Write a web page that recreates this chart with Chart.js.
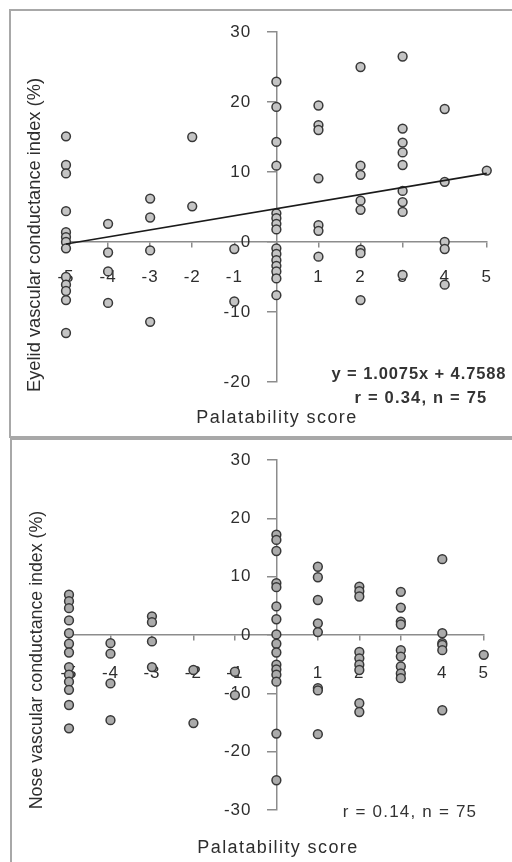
<!DOCTYPE html>
<html><head><meta charset="utf-8">
<script src="https://cdn.jsdelivr.net/npm/chart.js@4.4.0/dist/chart.umd.min.js"></script>
<style>
html,body{margin:0;padding:0;background:#fff;width:512px;height:862px;overflow:hidden;}
.panel{position:absolute;box-sizing:border-box;border:2px solid #a8a8a8;border-right:none;}
#p1{left:9px;top:9px;width:503px;height:429px;}
#p2{left:10px;top:438px;width:502px;height:430px;border-bottom:none;}
.cv{position:absolute;left:0;}
#c1{top:0;}
#c2{top:437px;}
</style></head><body>
<div class="panel" id="p1"></div>
<div class="panel" id="p2"></div>
<canvas class="cv" id="c1" width="512" height="437"></canvas>
<canvas class="cv" id="c2" width="512" height="425"></canvas>
<script>
// ---------- data ----------
const xTicks = [-5,-4,-3,-2,-1,0,1,2,3,4,5];
const xTickLabels = ['-5','-4','-3','-2','-1','0','1','2','3','4','5'];
const eyelidYTicks = [-20,-10,0,10,20,30];
const noseYTicks = [-30,-20,-10,0,10,20,30];

// Eyelid vascular conductance index (%) by palatability score
const eyelidScore = [
 -5,-5,-5,-5,-5,-5,-5,-5,-5,-5,-5,-5,-5,
 -4,-4,-4,-4,
 -3,-3,-3,-3,
 -2,-2,
 -1,-1,
 0,0,0,0,0,0,0,0,0,0,0,0,0,0,0,
 1,1,1,1,1,1,1,
 2,2,2,2,2,2,2,2,
 3,3,3,3,3,3,3,3,3,
 4,4,4,4,4,
 5];
const eyelidValue = [
 15.1,11.0,9.8,4.4,1.4,0.7,0.0,-0.9,-5.0,-6.1,-7.0,-8.3,-13.0,
 2.6,-1.5,-4.2,-8.7,
 6.2,3.5,-1.2,-11.4,
 15.0,5.1,
 -1.0,-8.5,
 22.9,19.3,14.3,10.9,4.1,3.4,2.6,1.8,-0.9,-1.7,-2.6,-3.4,-4.2,-5.2,-7.6,
 19.5,16.7,16.0,9.1,2.4,1.6,-2.1,
 25.0,10.9,9.6,5.9,4.6,-1.1,-1.6,-8.3,
 26.5,16.2,14.2,12.8,11.0,7.3,5.7,4.3,-4.7,
 19.0,8.6,0.0,-1.0,-6.1,
 10.2];
const eyelidTrendX = [-5, 5];
const eyelidTrendY = [-0.28, 9.80];

// Nose vascular conductance index (%) by palatability score
const noseScore = [
 -5,-5,-5,-5,-5,-5,-5,-5,-5,-5,-5,-5,-5,
 -4,-4,-4,-4,
 -3,-3,-3,-3,
 -2,-2,
 -1,-1,
 0,0,0,0,0,0,0,0,0,0,0,0,0,0,0,0,
 1,1,1,1,1,1,1,1,
 2,2,2,2,2,2,2,2,2,
 3,3,3,3,3,3,3,3,3,
 4,4,4,4,4,4,
 5];
const noseValue = [
 6.9,5.8,4.6,2.5,0.3,-1.5,-3.0,-5.5,-6.8,-8.0,-9.4,-12.0,-16.0,
 -1.4,-3.2,-8.3,-14.6,
 3.2,2.2,-1.1,-5.5,
 -6.0,-15.1,
 -6.3,-10.3,
 17.2,16.3,14.4,8.9,8.2,4.9,2.7,0.1,-1.5,-3.0,-5.1,-5.9,-6.8,-8.0,-16.9,-24.9,
 11.7,9.9,6.0,2.0,0.5,-9.1,-9.5,-17.0,
 8.3,7.5,6.6,-2.9,-4.0,-5.1,-6.0,-11.7,-13.2,
 7.4,4.7,2.3,1.8,-2.6,-3.7,-5.4,-6.6,-7.4,
 13.0,0.3,-1.4,-1.7,-2.6,-12.9,
 -3.4];

const FONT = "'Liberation Sans', Arial, sans-serif";
const AXIS = '#8c8c8c';
const TEXT = '#2e2e2e';

const spacing = {
  id: 'spacing',
  beforeLayout(chart){ chart.ctx.letterSpacing = '1px'; },
  beforeDraw(chart){ chart.ctx.letterSpacing = '1px'; }
};

const textPlugin = {
  id: 'texts',
  afterDraw(chart, args, opts){
    const ctx = chart.ctx;
    (opts.items || []).forEach(t => {
      ctx.save();
      ctx.letterSpacing = t.ls || '0px';
      ctx.font = (t.weight || 'normal') + ' ' + t.size + 'px ' + FONT;
      ctx.fillStyle = t.color || TEXT;
      ctx.textAlign = 'center';
      ctx.textBaseline = 'middle';
      ctx.translate(t.x, t.y);
      if (t.rotate) ctx.rotate(t.rotate);
      ctx.fillText(t.text, 0, 0);
      ctx.restore();
    });
  }
};

function makeChart(id, xs, ys, fill, yTicks, padding, items, trend){
  const pts = xs.map((x, i) => ({x: x, y: ys[i]}));
  const datasets = [{
    type: 'scatter',
    data: pts,
    clip: false,
    pointRadius: 4.4,
    pointHoverRadius: 4.4,
    pointBorderWidth: 1.5,
    pointBackgroundColor: fill,
    pointBorderColor: '#383838',
    order: 2
  }];
  if (trend) {
    datasets.push({
      type: 'line',
      data: trend.x.map((x, i) => ({x: x, y: trend.y[i]})),
      clip: false,
      borderColor: '#1a1a1a',
      borderWidth: 1.6,
      pointRadius: 0,
      fill: false,
      order: 1
    });
  }
  const yMin = yTicks[0], yMax = yTicks[yTicks.length-1];
  return new Chart(document.getElementById(id), {
    type: 'scatter',
    data: { datasets: datasets },
    options: {
      responsive: false,
      animation: false,
      devicePixelRatio: 1,
      layout: { padding: padding },
      plugins: { legend: {display:false}, tooltip: {enabled:false}, texts: { items: items } },
      scales: {
        x: {
          type: 'linear', min: -5, max: 5, position: {y: 0},
          afterBuildTicks: s => { s.ticks = xTicks.map(v => ({value: v})); },
          grid: { drawOnChartArea: false, drawTicks: true, tickLength: 5, color: AXIS, lineWidth: 1.5 },
          border: { display: true, color: AXIS, width: 1.5 },
          ticks: { padding: padding.xPad, color: TEXT, font: {family: FONT, size: 17}, autoSkip: false, maxRotation: 0,
                   callback: v => xTickLabels[xTicks.indexOf(v)] }
        },
        y: {
          type: 'linear', min: yMin, max: yMax, position: {x: 0},
          afterBuildTicks: s => { s.ticks = yTicks.map(v => ({value: v})); },
          grid: { drawOnChartArea: false, drawTicks: true, tickLength: 9, color: AXIS, lineWidth: 1.5 },
          border: { display: true, color: AXIS, width: 1.5 },
          ticks: { display: false }
        },
        yLabels: {
          type: 'linear', axis: 'y', min: yMin, max: yMax, position: {x: -0.6},
          afterBuildTicks: s => { s.ticks = yTicks.map(v => ({value: v})); },
          grid: { display: false, drawTicks: false },
          border: { display: false },
          ticks: { padding: 0, color: TEXT, font: {family: FONT, size: 17}, autoSkip: false,
                   callback: v => String(v) }
        }
      }
    },
    plugins: [spacing, textPlugin]
  });
}

makeChart('c1', eyelidScore, eyelidValue, '#c4c4c4', eyelidYTicks,
  {left: 66, right: 24, top: 32, bottom: 55, xPad: 20},
  [
    {text: 'Eyelid vascular conductance index (%)', x: 35, y: 235, size: 18.3, rotate: -Math.PI/2},
    {text: 'Palatability score', x: 277, y: 418, size: 18, ls: '1.4px'},
    {text: 'y = 1.0075x + 4.7588', x: 419, y: 374, size: 16.5, weight: 'bold', ls: '0.9px', color: '#333'},
    {text: 'r = 0.34, n = 75', x: 421, y: 398, size: 16.5, weight: 'bold', ls: '1.2px', color: '#333'}
  ],
  {x: eyelidTrendX, y: eyelidTrendY});

makeChart('c2', noseScore, noseValue, '#ababab', noseYTicks,
  {left: 69, right: 25, top: 23, bottom: 52, xPad: 23},
  [
    {text: 'Nose vascular conductance index (%)', x: 37, y: 223, size: 17.8, rotate: -Math.PI/2},
    {text: 'Palatability score', x: 278, y: 411, size: 18, ls: '1.4px'},
    {text: 'r = 0.14, n = 75', x: 410, y: 375, size: 17, ls: '1.2px', color: '#333'}
  ],
  null);
</script>
</body></html>
